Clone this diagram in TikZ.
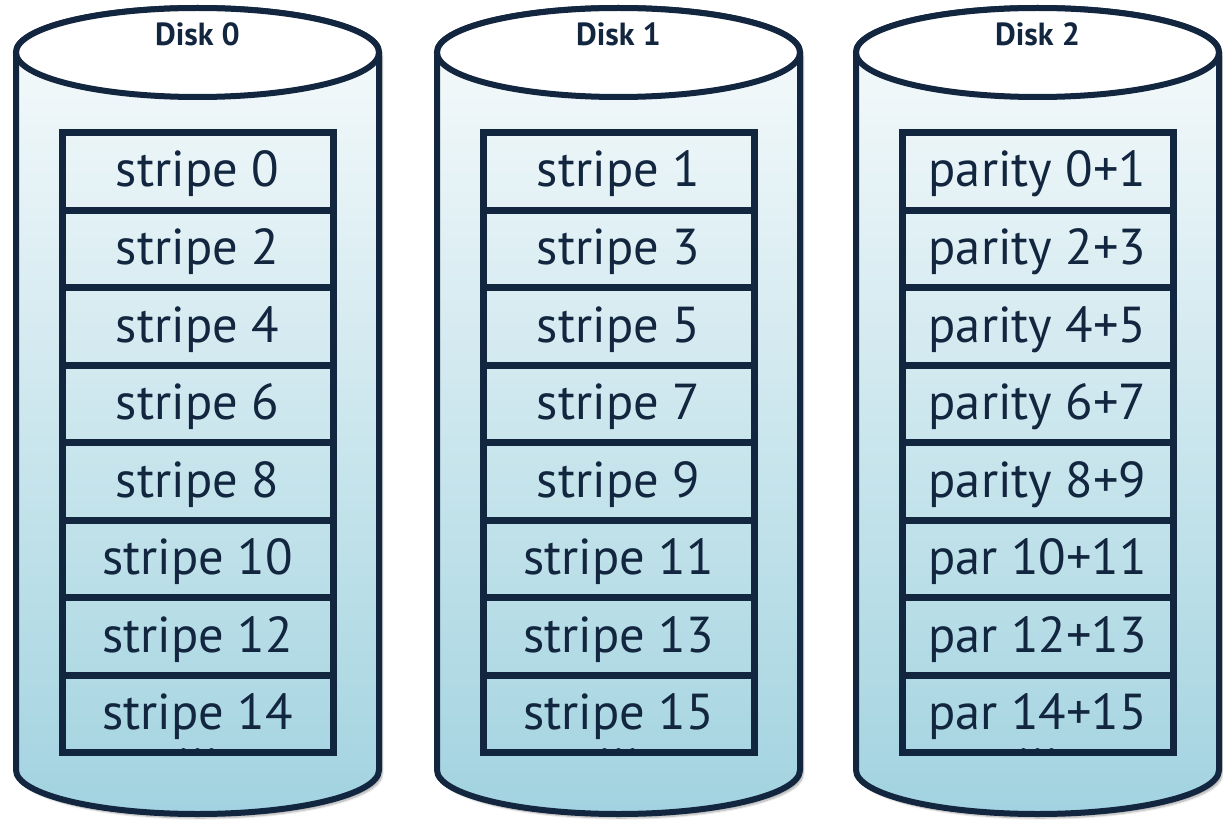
\documentclass[tikz,border=0pt]{standalone}
\usepackage{fontspec}
\setmainfont{PT Sans}
\usetikzlibrary{shadows.blur}

\definecolor{ink}{HTML}{13263F}
\definecolor{disktop}{HTML}{F8FBFC}
\definecolor{diskbot}{HTML}{A2D3E0}

\tikzset{
  diskbody/.style={draw=ink, line width=6pt, top color=disktop, bottom color=diskbot,
    blur shadow={shadow xshift=3pt, shadow yshift=-4pt, shadow blur steps=10, shadow opacity=35}},
  disklid/.style={draw=ink, line width=6pt, fill=white},
  disklabel/.style={font=\bfseries\fontsize{32}{32}\selectfont, text=ink, inner sep=0pt},
  cell/.style={draw=ink, line width=7pt, minimum width=271pt, minimum height=77.5pt,
    inner sep=0pt, text=ink, font=\fontsize{50.5}{50.5}\selectfont,
    text height=31pt, text depth=0pt},
  more/.style={fill=ink},
}

\begin{document}
\begin{tikzpicture}[x=1pt, y=-1pt]
  \useasboundingbox (0,0) rectangle (1223,821);

  % one cylinder per disk: centre x, name, label
  \foreach \cx/\dn/\lbl in {197.5/d0/Disk 0, 618.5/d1/Disk 1, 1037.5/d2/Disk 2}{
    \path[diskbody] (\cx-181.5, 52.5) -- (\cx-181.5, 770)
      arc[start angle=180, end angle=0, x radius=181.5, y radius=44]
      -- (\cx+181.5, 52.5)
      arc[start angle=0, end angle=-180, x radius=181.5, y radius=44.5] -- cycle;
    \draw[disklid] (\cx, 52.5) ellipse[x radius=181.5, y radius=44.5];
    \node[disklabel, anchor=base] (\dn-label) at (\cx, 45.5) {\lbl};
    % continuation dots, mostly hidden under the last cell
    \foreach \dx in {-14, 0, 14}
      \fill[more] (\cx+\dx, 751) circle[radius=3];
  }

  % stripe cells
  \foreach \txt [count=\i from 0] in {stripe 0, stripe 2, stripe 4, stripe 6,
      stripe 8, stripe 10, stripe 12, stripe 14}
    \node[cell] (d0-\i) at (197.5, 171.5+77.5*\i) {\txt};
  \foreach \txt [count=\i from 0] in {stripe 1, stripe 3, stripe 5, stripe 7,
      stripe 9, stripe 11, stripe 13, stripe 15}
    \node[cell] (d1-\i) at (618.5, 171.5+77.5*\i) {\txt};
  \foreach \txt [count=\i from 0] in {parity 0+1, parity 2+3, parity 4+5, parity 6+7,
      parity 8+9, par 10+11, par 12+13, par 14+15}
    \node[cell] (d2-\i) at (1037.5, 171.5+77.5*\i) {\txt};
\end{tikzpicture}
\end{document}
